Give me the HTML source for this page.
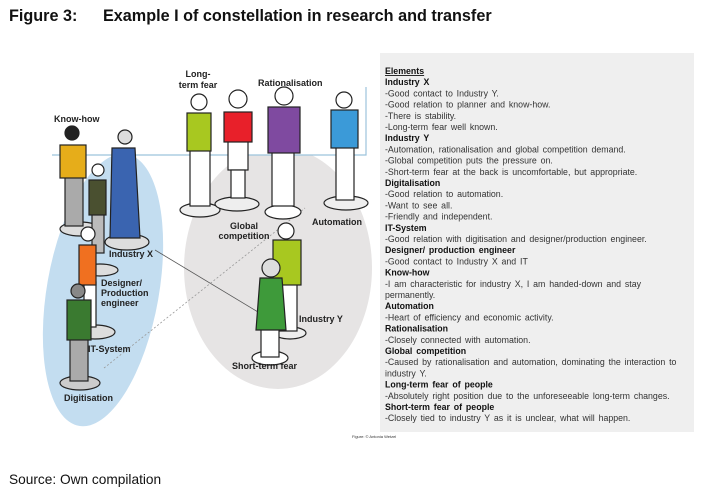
<!DOCTYPE html>
<html><head><meta charset="utf-8"><style>
html,body{margin:0;padding:0;background:#fff;}
body{width:704px;height:491px;overflow:hidden;position:relative;font-family:"Liberation Sans",Arial,sans-serif;}
</style></head><body>
<svg width="704" height="491" viewBox="0 0 704 491" xmlns="http://www.w3.org/2000/svg" style="position:absolute;left:0;top:0" font-family="Liberation Sans, Arial, sans-serif">
<text x="9" y="21" font-size="16.2" font-weight="bold" fill="#111">Figure 3:</text>
<text x="103" y="21" font-size="16.2" font-weight="bold" fill="#111">Example I of constellation in research and transfer</text>
<defs><clipPath id="c"><rect x="0" y="155" width="400" height="300"/></clipPath></defs>
<g clip-path="url(#c)">
<ellipse cx="103" cy="290" rx="56" ry="138" transform="rotate(10 103 290)" fill="#c3ddf0"/>
<ellipse cx="278" cy="268" rx="94" ry="121" fill="#e6e4e4"/>
</g>
<polyline points="52,155 366,155 366,87" fill="none" stroke="#9cc3dc" stroke-width="1.2"/>
<line x1="155" y1="250" x2="258" y2="312" stroke="#555" stroke-width="0.8"/>
<line x1="104" y1="368" x2="305" y2="208" stroke="#999" stroke-width="0.8" stroke-dasharray="2,2"/>
<g stroke="#222" stroke-width="1.2">
<ellipse cx="200" cy="210" rx="20" ry="7" fill="#eee"/>
<ellipse cx="237" cy="204" rx="22" ry="7" fill="#eee"/>
<ellipse cx="283" cy="212" rx="18" ry="7" fill="#fff"/>
<ellipse cx="346" cy="203" rx="22" ry="7" fill="#eee"/>
<ellipse cx="80" cy="229" rx="20" ry="7" fill="#ddd"/>
<ellipse cx="127" cy="242" rx="22" ry="8" fill="#ddd"/>
<ellipse cx="100" cy="270" rx="18" ry="6" fill="#ddd"/>
<ellipse cx="95" cy="332" rx="20" ry="7" fill="#ddd"/>
<ellipse cx="80" cy="383" rx="20" ry="7" fill="#ccc"/>
<ellipse cx="290" cy="333" rx="16" ry="6" fill="#eee"/>
<ellipse cx="270" cy="358" rx="18" ry="7" fill="#fff"/>
<rect x="190" y="148" width="20" height="58" fill="#fff"/>
<rect x="187" y="113" width="24" height="38" fill="#a8c820"/>
<circle cx="199" cy="102" r="8" fill="#fff"/>
<rect x="228" y="140" width="20" height="30" fill="#fff"/>
<rect x="231" y="170" width="14" height="28" fill="#fff"/>
<rect x="224" y="112" width="28" height="30" fill="#e8202a"/>
<circle cx="238" cy="99" r="9" fill="#fff"/>
<rect x="272" y="150" width="22" height="56" fill="#fff"/>
<rect x="268" y="107" width="32" height="46" fill="#7f4aa0"/>
<circle cx="284" cy="96" r="9" fill="#fff"/>
<rect x="336" y="145" width="18" height="55" fill="#fff"/>
<rect x="331" y="110" width="27" height="38" fill="#3b9ad8"/>
<circle cx="344" cy="100" r="8" fill="#fff"/>
<rect x="65" y="176" width="18" height="50" fill="#aaa"/>
<rect x="60" y="145" width="26" height="33" fill="#e6ad1a"/>
<circle cx="72" cy="133" r="7" fill="#222"/>
<rect x="92" y="213" width="12" height="40" fill="#bbb"/>
<rect x="89" y="180" width="17" height="35" fill="#4a5030"/>
<circle cx="98" cy="170" r="6" fill="#fff"/>
<path d="M112,148 L135,148 L140,238 L110,238 Z" fill="#3a64b0"/>
<circle cx="125" cy="137" r="7" fill="#ddd"/>
<rect x="84" y="282" width="12" height="45" fill="#fff"/>
<rect x="79" y="245" width="17" height="40" fill="#f07020"/>
<circle cx="88" cy="234" r="7" fill="#fff"/>
<rect x="70" y="338" width="18" height="43" fill="#aaa"/>
<rect x="67" y="300" width="24" height="40" fill="#3a7a30"/>
<circle cx="78" cy="291" r="7" fill="#888"/>
<rect x="277" y="283" width="20" height="48" fill="#fff"/>
<rect x="273" y="240" width="28" height="45" fill="#a8c820"/>
<circle cx="286" cy="231" r="8" fill="#fff"/>
<rect x="261" y="325" width="18" height="32" fill="#fff"/>
<path d="M260,278 L282,278 L286,330 L256,330 Z" fill="#3e9a3a"/>
<circle cx="271" cy="268" r="9" fill="#ddd"/>
</g>
<g font-size="9" font-weight="bold" fill="#222">
<text x="54" y="122">Know-how</text>
<text x="198" y="77" text-anchor="middle">Long-</text>
<text x="198" y="88" text-anchor="middle">term fear</text>
<text x="258" y="86">Rationalisation</text>
<text x="244" y="229" text-anchor="middle">Global</text>
<text x="244" y="239" text-anchor="middle">competition</text>
<text x="312" y="225">Automation</text>
<text x="109" y="257">Industry X</text>
<text x="101" y="286">Designer/</text>
<text x="101" y="296">Production</text>
<text x="101" y="306">engineer</text>
<text x="88" y="352">IT-System</text>
<text x="64" y="401">Digitisation</text>
<text x="299" y="322">Industry Y</text>
<text x="232" y="369">Short-term fear</text>
</g>
<text x="352" y="438" font-size="4" fill="#333">Figure: © Antonia Wetzel</text>
<rect x="380" y="53" width="314" height="379" fill="#efefef"/>
<g font-size="8.8" fill="#333" word-spacing="1.4">
<text x="385" y="74" font-weight="bold" text-decoration="underline" fill="#111">Elements</text>
<text x="385" y="85.2" font-weight="bold" fill="#111">Industry X</text>
<text x="385" y="96.4">-Good contact to Industry Y.</text>
<text x="385" y="107.6">-Good relation to planner and know-how.</text>
<text x="385" y="118.8">-There is stability.</text>
<text x="385" y="130">-Long-term fear well known.</text>
<text x="385" y="141.2" font-weight="bold" fill="#111">Industry Y</text>
<text x="385" y="152.4">-Automation, rationalisation and global competition demand.</text>
<text x="385" y="163.6">-Global competition puts the pressure on.</text>
<text x="385" y="174.8">-Short-term fear at the back is uncomfortable, but appropriate.</text>
<text x="385" y="186" font-weight="bold" fill="#111">Digitalisation</text>
<text x="385" y="197.2">-Good relation to automation.</text>
<text x="385" y="208.4">-Want to see all.</text>
<text x="385" y="219.6">-Friendly and independent.</text>
<text x="385" y="230.8" font-weight="bold" fill="#111">IT-System</text>
<text x="385" y="242">-Good relation with digitisation and designer/production engineer.</text>
<text x="385" y="253.2" font-weight="bold" fill="#111">Designer/ production engineer</text>
<text x="385" y="264.4">-Good contact to Industry X and IT</text>
<text x="385" y="275.6" font-weight="bold" fill="#111">Know-how</text>
<text x="385" y="286.8">-I am characteristic for industry X, I am handed-down and stay</text>
<text x="385" y="298">permanently.</text>
<text x="385" y="309.2" font-weight="bold" fill="#111">Automation</text>
<text x="385" y="320.4">-Heart of efficiency and economic activity.</text>
<text x="385" y="331.6" font-weight="bold" fill="#111">Rationalisation</text>
<text x="385" y="342.8">-Closely connected with automation.</text>
<text x="385" y="354" font-weight="bold" fill="#111">Global competition</text>
<text x="385" y="365.2">-Caused by rationalisation and automation, dominating the interaction to</text>
<text x="385" y="376.4">industry Y.</text>
<text x="385" y="387.6" font-weight="bold" fill="#111">Long-term fear of people</text>
<text x="385" y="398.8">-Absolutely right position due to the unforeseeable long-term changes.</text>
<text x="385" y="410" font-weight="bold" fill="#111">Short-term fear of people</text>
<text x="385" y="421.2">-Closely tied to industry Y as it is unclear, what will happen.</text>
</g>
<text x="9" y="484" font-size="13.7" fill="#111">Source: Own compilation</text>
</svg>
</body></html>
